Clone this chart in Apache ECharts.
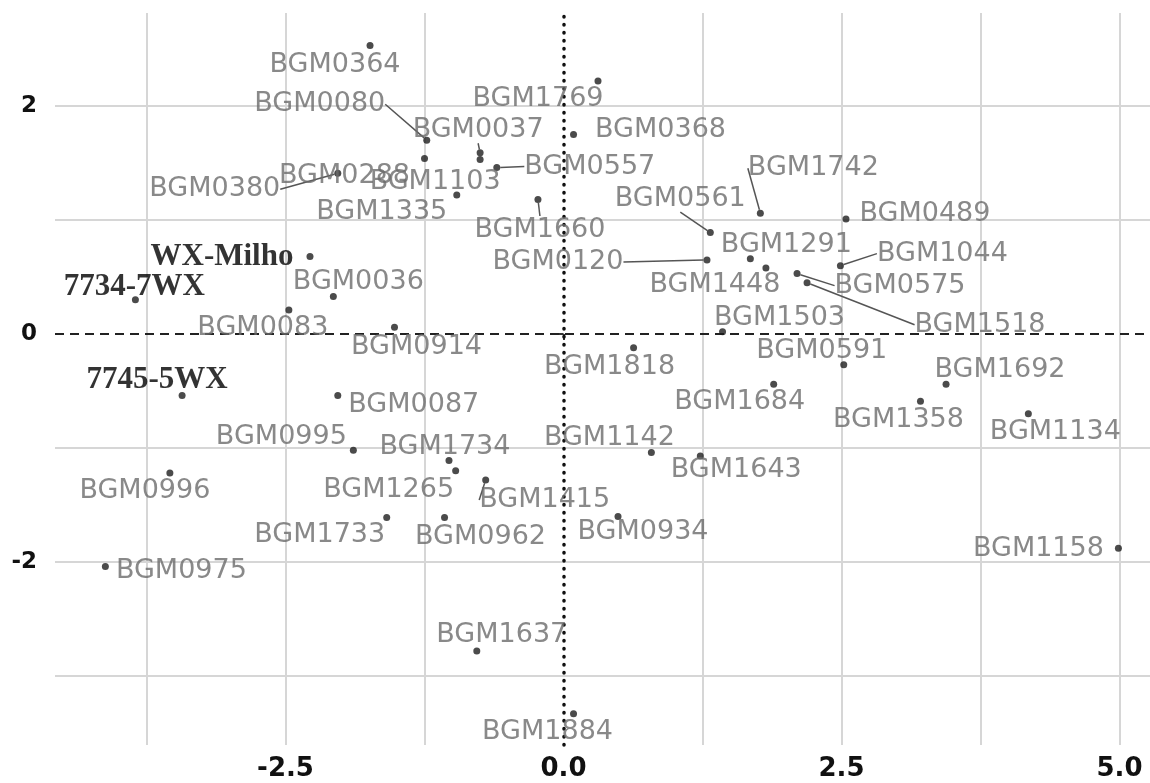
<!DOCTYPE html>
<html><head><meta charset="utf-8">
<script src="https://cdn.jsdelivr.net/npm/echarts@6/dist/echarts.min.js"></script>
<style>html,body{margin:0;padding:0;background:#fff}#c{width:1150px;height:783px}</style>
</head><body><div id="c"></div>
<script>
// ---- data ----
const names = ['BGM0364','BGM1769','BGM0080','BGM0037','BGM0368','BGM0288','BGM1103','BGM0380','BGM1335','BGM0557',
  'BGM1660','BGM0561','BGM1742','BGM0489','BGM0120','BGM1291','BGM1448','BGM1044','BGM0575','BGM1518',
  'BGM1503','BGM0591','BGM1692','BGM1684','BGM1358','BGM1134','BGM1158','BGM1818','BGM1142','BGM1643',
  'BGM0934','BGM1415','BGM1734','BGM1265','BGM0962','BGM1733','BGM0975','BGM0996','BGM0995','BGM0087',
  '7745-5WX','7734-7WX','WX-Milho','BGM0036','BGM0083','BGM0914','BGM1637','BGM1884'];
const pc1 = [-1.74,0.31,-1.23,-0.75,0.09,-1.25,-0.75,-2.03,-0.96,-0.60,
  -0.23,1.32,1.77,2.54,1.29,1.68,1.82,2.49,2.10,2.19,
  1.43,2.52,3.44,1.89,3.21,4.18,4.99,0.63,0.79,1.23,
  0.49,-0.70,-1.03,-0.97,-1.07,-1.59,-4.12,-3.54,-1.89,-2.03,
  -3.43,-3.85,-2.28,-2.07,-2.47,-1.52,-0.78,0.09];
const pc2 = [2.53,2.22,1.70,1.59,1.75,1.54,1.53,1.41,1.22,1.46,
  1.18,0.89,1.06,1.01,0.65,0.66,0.58,0.60,0.53,0.45,
  0.02,-0.27,-0.44,-0.44,-0.59,-0.70,-1.88,-0.12,-1.04,-1.07,
  -1.60,-1.28,-1.11,-1.20,-1.61,-1.61,-2.04,-1.22,-1.02,-0.54,
  -0.54,0.30,0.68,0.33,0.21,0.06,-2.78,-3.33];
const xTickValues = [-2.5, 0, 2.5, 5];
const yTickValues = [-2, 0, 2];
const xGridValues = [-3.75, -2.5, -1.25, 1.25, 2.5, 3.75, 5];
const yGridValues = [-3, -2, -1, 1, 2];
const boldNames = ['WX-Milho','7734-7WX','7745-5WX'];
const leaderNames = ['BGM0080','BGM0037','BGM0380','BGM0557','BGM1660','BGM0561','BGM1742','BGM0120','BGM1044','BGM0575','BGM1518','BGM1415'];

// ---- layout: label offsets (px) from each point ----
const labelOffsets = [[-35,19],[-60,18],[-107,-36],[-2,-23],[87,-5],[-80,18],[-45,22],[-123,16],[-75,17],[93,-1],
  [2,30],[-30,-34],[53,-45],[79,-5],[-149,2],[36,-14],[-51,17],[102,-12],[103,12],[173,42],
  [57,-14],[-22,-14],[54,-14],[-34,18],[-22,19],[27,18],[-80,1],[-24,19],[-42,-15],[36,14],
  [25,16],[59,20],[-4,-14],[-67,19],[36,19],[-67,17],[76,4],[-25,18],[-72,-13],[76,9],
  [-25,-16],[-1,-13],[-88,0],[25,-14],[-26,18],[22,20],[25,-16],[-26,18]];

const chart = echarts.init(document.getElementById('c'));
const pts = names.map((n, i) => {
  const item = { name: n, value: [pc1[i], pc2[i]] };
  if (boldNames.includes(n)) item.label = { fontFamily: 'Liberation Serif', fontWeight: 'bold', fontSize: 31, color: '#000' };
  if (leaderNames.includes(n)) item.labelLine = { show: true };
  return item;
});
const gridColor = '#d6d6d6';
const gridLines = xGridValues.map(v => ({ xAxis: v })).concat(yGridValues.map(v => ({ yAxis: v })));

chart.setOption({
  animation: false,
  backgroundColor: '#fff',
  grid: { left: 55, right: 0, top: 13, bottom: 38 },
  xAxis: {
    type: 'value', min: -4.573, max: 5.274,
    splitLine: { show: false }, axisLine: { show: false },
    axisTick: { show: true, customValues: xTickValues, length: 6, lineStyle: { color: '#333', width: 2 } },
    axisLabel: { customValues: xTickValues, formatter: v => Number(v).toFixed(1), margin: 11,
      fontSize: 26, fontWeight: 'bold', fontFamily: 'DejaVu Sans', color: '#111' }
  },
  yAxis: {
    type: 'value', min: -3.605, max: 2.816,
    splitLine: { show: false }, axisLine: { show: false },
    axisTick: { show: true, customValues: yTickValues, length: 6, lineStyle: { color: '#333', width: 2 } },
    axisLabel: { customValues: yTickValues, formatter: v => String(v), margin: 18,
      fontSize: 23, fontWeight: 'bold', fontFamily: 'DejaVu Sans', color: '#111' }
  },
  series: [
    { type: 'line', data: [], z: 1, silent: true,
      markLine: { silent: true, symbol: 'none', label: { show: false }, animation: false,
        lineStyle: { color: gridColor, width: 2, type: 'solid' }, data: gridLines } },
    { type: 'scatter', data: pts, symbolSize: 7, z: 5,
      itemStyle: { color: '#1e1e1e' },
      label: { show: true, position: 'inside', formatter: '{b}', fontFamily: 'DejaVu Sans', fontSize: 27, color: '#6c6c6c' },
      labelLine: { show: false, lineStyle: { color: '#555', width: 1.5 } },
      labelLayout: p => ({ dx: labelOffsets[p.dataIndex][0], dy: labelOffsets[p.dataIndex][1] })
    },
    { type: 'line', data: [], z: 10, silent: true,
      markLine: { silent: true, symbol: 'none', label: { show: false }, animation: false,
        data: [
          { xAxis: 0, lineStyle: { color: '#111', width: 3.5, type: [0.5, 7.5], cap: 'round' } },
          { yAxis: 0, lineStyle: { color: '#222', width: 2, type: [9, 6] } }
        ] } }
  ]
});
</script></body></html>
